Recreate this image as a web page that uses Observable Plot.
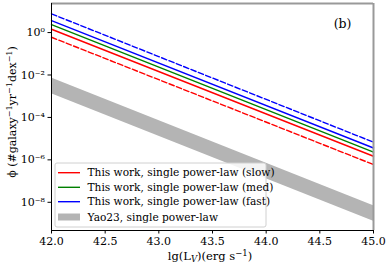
<!DOCTYPE html>
<html><head><meta charset="utf-8">
<script src="https://cdn.jsdelivr.net/npm/d3@7"></script>
<script src="https://cdn.jsdelivr.net/npm/@observablehq/plot@0.6"></script>
<style>body{margin:0;background:#fff} svg{display:block}</style>
</head><body><div id="chart"></div>
<script>
// ---- data ----
const lgL = [42, 45];
const slowPhi = [1.43, 1.48e-6];
const medPhi = [2.38, 2.29e-6];
const fastPhi = [3.68, 3.63e-6];
const slowLowPhi = [0.60, 6.0e-7];
const fastHighPhi = [7.6, 6.8e-6];
const yaoUpper = [7.2e-3, 6.9e-9];
const yaoLower = [1.3e-3, 1.26e-9];
const xTicks = [42, 42.5, 43, 43.5, 44, 44.5, 45];
const yTicks = [1, 1e-2, 1e-4, 1e-6, 1e-8];
const legendLabels = [
  "This work, single power-law (slow)",
  "This work, single power-law (med)",
  "This work, single power-law (fast)",
  "Yao23, single power-law"
];
const panelLabel = "(b)";

const W = 389, H = 266;
const FONT = "DejaVu Serif";
const yDomain = [10 ** -9.33, 10 ** 1.37];

const series = [
  {vals: slowLowPhi, color: "#ff0000", dash: "5.5,2.4"},
  {vals: slowPhi, color: "#ff0000", dash: null},
  {vals: medPhi, color: "#008000", dash: null},
  {vals: fastPhi, color: "#0000ff", dash: null},
  {vals: fastHighPhi, color: "#0000ff", dash: "5.5,2.4"}
];
const yaoRows = lgL.map((x, i) => ({x, lo: yaoLower[i], hi: yaoUpper[i]}));

const supMap = {"-": "⁻", "0": "⁰", "1": "¹", "2": "²", "3": "³", "4": "⁴", "5": "⁵", "6": "⁶", "7": "⁷", "8": "⁸", "9": "⁹"};
const sup = s => s.split("").map(c => supMap[c] || c).join("");

const chart = Plot.plot({
  width: W, height: H,
  marginLeft: 51, marginRight: 16, marginTop: 3, marginBottom: 36,
  style: {fontFamily: FONT, fontSize: "11px", color: "#000", background: "#fff", overflow: "visible"},
  x: {domain: [42, 45], ticks: xTicks, tickFormat: d => d.toFixed(1), label: null, tickSize: 3.5, tickPadding: 3},
  y: {type: "log", domain: yDomain, ticks: yTicks, tickFormat: d => "10" + sup(String(Math.round(Math.log10(d)))), label: null, tickSize: 3.5, tickPadding: 3},
  marks: [
    Plot.areaY(yaoRows, {x: "x", y1: "lo", y2: "hi", fill: "#b4b4b4"}),
    ...series.map(s => Plot.line(lgL.map((x, i) => ({x, y: s.vals[i]})), {
      x: "x", y: "y", stroke: s.color, strokeWidth: 1.4, strokeDasharray: s.dash
    })),
    Plot.ruleY([yDomain[1]], {stroke: "#999", strokeWidth: 2}),
    Plot.ruleX([45], {stroke: "#999", strokeWidth: 2}),
    Plot.ruleX([42], {stroke: "#000", strokeWidth: 1}),
    Plot.ruleY([yDomain[0]], {stroke: "#000", strokeWidth: 1}),
    Plot.text([panelLabel], {frameAnchor: "top-right", dx: -22, dy: 16, fontSize: 12.5, fill: "#000"})
  ]
});

const svg = d3.select(chart);

// legend
const lg = svg.append("g").attr("font-family", FONT).attr("font-size", 10.6).attr("text-anchor", "start");
lg.append("rect").attr("x", 55).attr("y", 163).attr("width", 211).attr("height", 64)
  .attr("rx", 2).attr("fill", "#fff").attr("fill-opacity", 0.85).attr("stroke", "#d0d0d0").attr("stroke-width", 1);
const legendColors = ["#ff0000", "#008000", "#0000ff", "#b4b4b4"];
const legendY = [172.7, 187.3, 201.7, 217];
legendLabels.forEach((t, i) => {
  lg.append("line").attr("x1", 58).attr("x2", 80).attr("y1", legendY[i]).attr("y2", legendY[i])
    .attr("stroke", legendColors[i]).attr("stroke-width", i === 3 ? 7 : 1.4);
  lg.append("text").attr("x", 87.5).attr("y", legendY[i]).attr("dy", "0.35em").attr("fill", "#000")
    .attr("text-anchor", "start").text(t);
});

// x label
const xl = svg.append("text").attr("x", 210).attr("y", 260).attr("text-anchor", "middle")
  .attr("font-family", FONT).attr("font-size", 11.5).attr("fill", "#000");
xl.append("tspan").text("lg(L");
xl.append("tspan").attr("font-size", 8.5).attr("font-style", "italic").attr("dy", 2).text("V");
xl.append("tspan").attr("dy", -2).text(")(erg s");
xl.append("tspan").attr("font-size", 8.5).attr("dy", -4).text("−1");
xl.append("tspan").attr("dy", 4).text(")");

// y label
const yl = svg.append("text").attr("transform", "translate(16,112) rotate(-90)").attr("text-anchor", "middle")
  .attr("font-family", FONT).attr("font-size", 11).attr("fill", "#000");
yl.append("tspan").text("ϕ (#galaxy");
yl.append("tspan").attr("font-size", 8).attr("dy", -4).text("−1");
yl.append("tspan").attr("dy", 4).text("yr");
yl.append("tspan").attr("font-size", 8).attr("dy", -4).text("−1");
yl.append("tspan").attr("dy", 4).text("dex");
yl.append("tspan").attr("font-size", 8).attr("dy", -4).text("−1");
yl.append("tspan").attr("dy", 4).text(")");

document.getElementById("chart").appendChild(chart);
</script>
</body></html>
